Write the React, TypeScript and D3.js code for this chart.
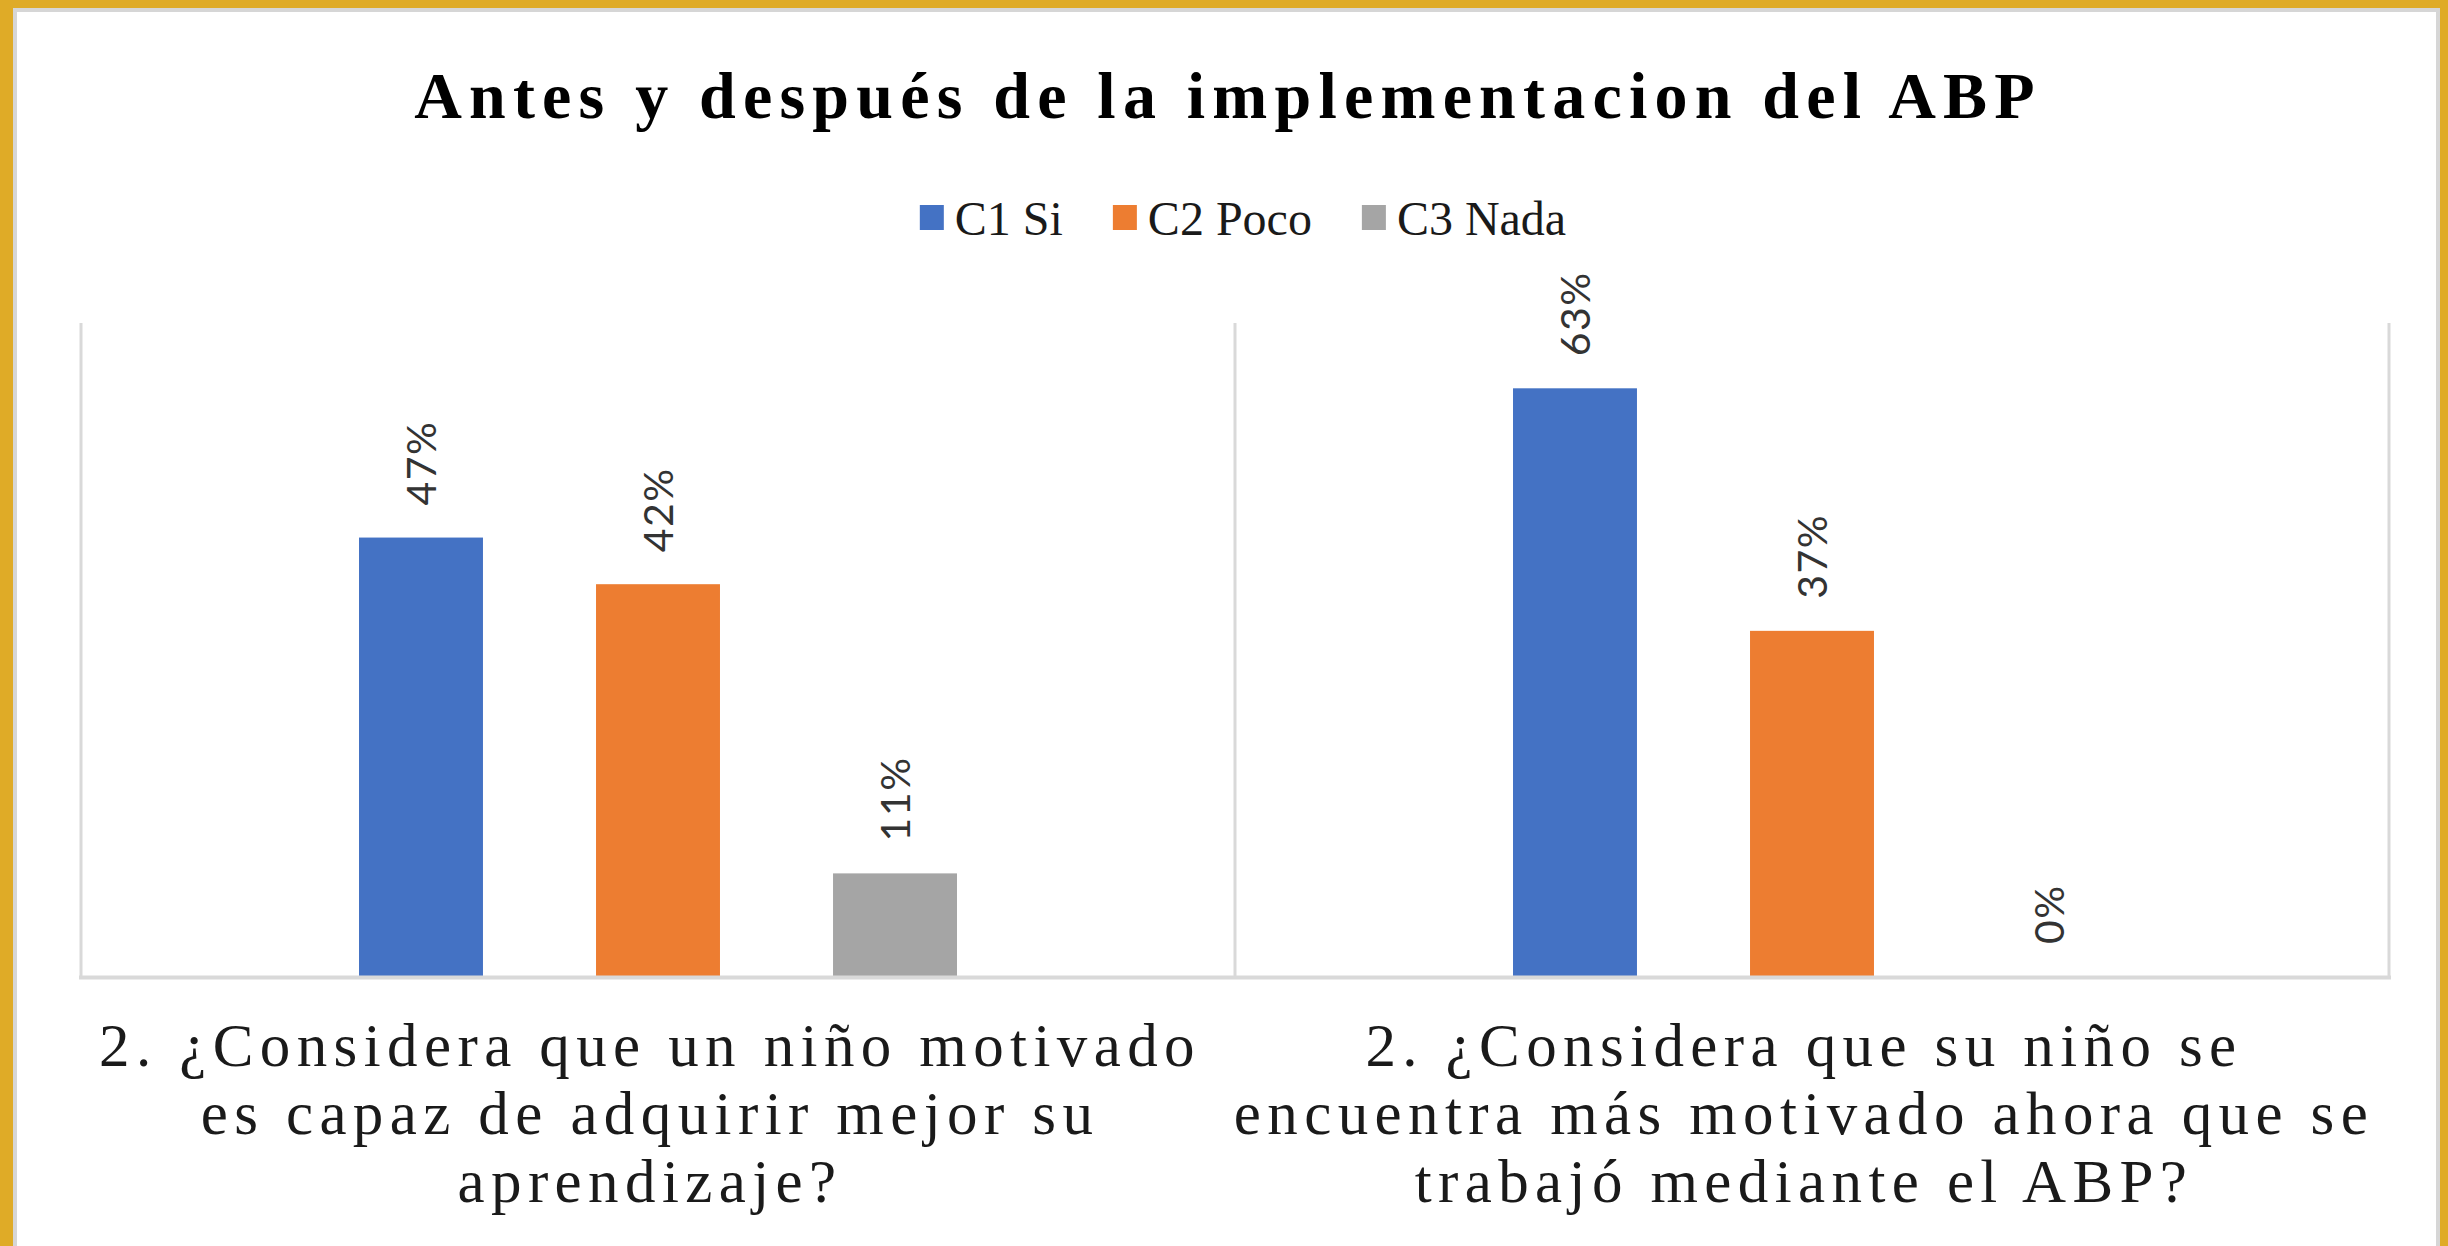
import React, { useEffect, useRef } from 'react';
import * as d3 from 'd3';

// chart data
const categoryLines = [
  ['2. ¿Considera que un niño motivado', 'es capaz de adquirir mejor su', 'aprendizaje?'],
  ['2. ¿Considera que su niño se', 'encuentra más motivado ahora que se', 'trabajó mediante el ABP?'],
];
const categories = ['antes', 'despues'];
const seriesNames = ['C1 Si', 'C2 Poco', 'C3 Nada'];
const seriesColors = ['#4472C4', '#ED7D31', '#A5A5A5'];
const c1Si = [0.47, 0.63];
const c2Poco = [0.42, 0.37];
const c3Nada = [0.11, 0];
const seriesValues = [c1Si, c2Poco, c3Nada];
const title = 'Antes y después de la implementacion del ABP';

const W = 2448;
const H = 1246;

const App: React.FC = () => {
  const ref = useRef<SVGSVGElement>(null);

  useEffect(() => {
    if (!ref.current) return;
    const svg = d3.select(ref.current);
    svg.selectAll('*').remove();

    const serif = '"Liberation Serif", "Times New Roman", serif';
    const sans = 'Lato, "Open Sans", sans-serif';

    // gold frame + white panel
    svg.append('rect').attr('width', W).attr('height', H).attr('fill', '#DFAB27');
    svg.append('rect')
      .attr('x', 15).attr('y', 10).attr('width', 2423).attr('height', H)
      .attr('fill', '#fff').attr('stroke', '#d6d6d6').attr('stroke-width', 4);

    const left = 81, right = 2389, top = 323, bottom = 976;

    const x0 = d3.scaleBand<string>().domain(categories).range([left, right]);
    const x1 = d3.scaleBand<string>().domain(seriesNames)
      .range([0, x0.bandwidth()]).paddingInner(0.477).paddingOuter(1.173);
    const y = d3.scaleLinear().domain([0, 0.7]).range([bottom, top]);

    // title
    svg.append('text')
      .attr('x', W / 2 + 4).attr('y', 118)
      .attr('text-anchor', 'middle')
      .attr('font-family', serif).attr('font-weight', 'bold')
      .attr('font-size', 66).attr('letter-spacing', 7.2)
      .attr('fill', '#000')
      .text(title);

    // legend
    const legend = svg.append('g');
    let lx = 0;
    seriesNames.forEach((name, i) => {
      const g = legend.append('g').attr('transform', `translate(${lx},0)`);
      g.append('rect').attr('x', 0).attr('y', 205).attr('width', 24).attr('height', 25)
        .attr('fill', seriesColors[i]);
      const t = g.append('text').attr('x', 35).attr('y', 235)
        .attr('font-family', serif).attr('font-size', 48).attr('fill', '#1a1a1a')
        .text(name);
      const tw = (t.node() as SVGTextElement).getComputedTextLength();
      lx += 35 + tw + 50;
    });
    const legendW = lx - 50;
    legend.attr('transform', `translate(${1243 - legendW / 2},0)`);

    // category separators
    const seps = [...categories.map(c => x0(c)!), right];
    svg.append('g').selectAll('line').data(seps).enter().append('line')
      .attr('x1', d => d).attr('x2', d => d)
      .attr('y1', top).attr('y2', bottom)
      .attr('stroke', '#D9D9D9').attr('stroke-width', 3);

    // bars
    const barData = categories.flatMap((c, ci) =>
      seriesNames.map((s, si) => ({ c, s, si, v: seriesValues[si][ci] })));

    svg.append('g').selectAll('rect').data(barData).enter().append('rect')
      .attr('x', d => x0(d.c)! + x1(d.s)!)
      .attr('y', d => y(d.v))
      .attr('width', x1.bandwidth())
      .attr('height', d => bottom - y(d.v))
      .attr('fill', d => seriesColors[d.si]);

    // axis line
    svg.append('line')
      .attr('x1', left - 2).attr('x2', right + 2)
      .attr('y1', bottom + 1.5).attr('y2', bottom + 1.5)
      .attr('stroke', '#D9D9D9').attr('stroke-width', 4);

    // data labels (rotated)
    svg.append('g').selectAll('text').data(barData).enter().append('text')
      .attr('transform', d => {
        const cx = x0(d.c)! + x1(d.s)! + x1.bandwidth() / 2;
        return `translate(${cx},${y(d.v) - 32}) rotate(-90)`;
      })
      .attr('dy', '0.36em')
      .attr('font-family', sans).attr('font-size', 41)
      .attr('letter-spacing', 1.5)
      .attr('fill', '#333')
      .text(d => d3.format('.0%')(d.v));

    // category labels
    categories.forEach((c, ci) => {
      const cx = x0(c)! + x0.bandwidth() / 2 - 8;
      const t = svg.append('text')
        .attr('text-anchor', 'middle')
        .attr('font-family', serif).attr('font-size', 61)
        .attr('letter-spacing', 6.4)
        .attr('fill', '#1a1a1a');
      categoryLines[ci].forEach((line, li) => {
        t.append('tspan').attr('x', cx).attr('y', 1066 + li * 68).text(line);
      });
    });
  }, []);

  return (
    <svg ref={ref} width={W} height={H} viewBox={`0 0 ${W} ${H}`}
      style={{ position: 'absolute', left: 0, top: 0, display: 'block' }} />
  );
};

export default App;
